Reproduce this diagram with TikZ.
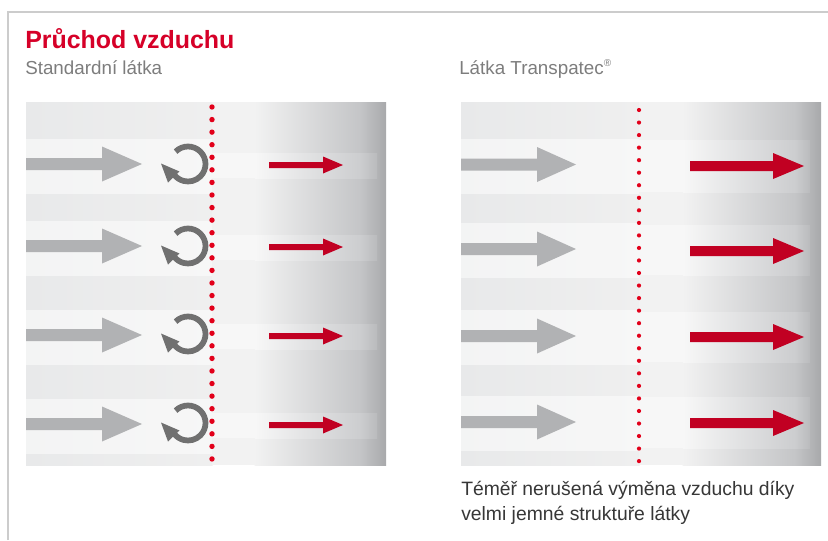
\documentclass[tikz,border=0pt]{standalone}
\usepackage{fontspec}
\setmainfont{Liberation Sans}
\definecolor{framec}{RGB}{204,204,204}
\definecolor{titlered}{RGB}{214,0,40}
\definecolor{subgray}{RGB}{125,125,125}
\definecolor{bodygray}{RGB}{55,55,55}
\definecolor{arrowgray}{RGB}{177,178,180}
\definecolor{arrowred}{RGB}{193,0,34}
\definecolor{dotred}{RGB}{226,0,26}
\definecolor{circg}{RGB}{112,112,112}
\definecolor{bgA}{RGB}{232,233,234}
\definecolor{bgB}{RGB}{239,239,239}
\definecolor{bgR0}{RGB}{242,242,242}
\definecolor{bgR1}{RGB}{196,197,199}
\definecolor{bgR2}{RGB}{168,169,171}
\definecolor{bdL0}{RGB}{247,247,247}
\definecolor{bdL1}{RGB}{204,205,207}
\definecolor{bdL2}{RGB}{186,187,189}
\newcommand{\blkarrow}[7]{%
  \fill[#7] (#1,#4-#5) -- (#2,#4-#5) -- (#2,#4-#6) -- (#3,#4) -- (#2,#4+#6) -- (#2,#4+#5) -- (#1,#4+#5) -- cycle;}
\newcommand{\circarrow}[2]{%
  \draw[circg, line width=4.3pt] (#1,#2) ++(-135:17.5) arc[start angle=-135, end angle=142, radius=17.5];
  \fill[circg] (#1-20,#2+18.5) -- (#1-27,#2-0.5) -- (#1-8.5,#2+7.5) -- cycle;}
% band on the right (shaded) part: x-dots, x-flat-end, x-mid, x-end, y-top, y-bottom
\newcommand{\rband}[6]{%
  \fill[bdL0] (#1,#5) rectangle (#2+0.5,#6);
  \shade[left color=bdL0, right color=bdL1] (#2,#5) rectangle (#3+0.5,#6);
  \shade[left color=bdL1, right color=bdL2] (#3,#5) rectangle (#4,#6);}
\tikzset{
  subtxt/.style={anchor=base west, inner sep=0pt, text=subgray, font=\fontsize{14.1pt}{16pt}\selectfont},
  bodytxt/.style={anchor=base west, inner sep=0pt, text=bodygray, font=\fontsize{14.5pt}{17pt}\selectfont},
  lightband/.style={fill=white, opacity=0.5}
}
\begin{document}
\begin{tikzpicture}[x=0.75pt,y=-0.75pt]
\useasboundingbox (0,0) rectangle (828,540);
\fill[white] (0,0) rectangle (828,540);
% frame
\draw[framec, line width=1.1pt] (8,540) -- (8,12) -- (828,12);

% titles
\node[anchor=base west, inner sep=0pt, text=titlered, font=\bfseries\fontsize{18.7pt}{20pt}\selectfont] (title) at (25,48.5) {Průchod vzduchu};
\node[subtxt] (sub1) at (25,74) {Standardní látka};
\node[subtxt] (sub2) at (459,74) {Látka Transpatec\raisebox{5.5pt}{\fontsize{7.5pt}{7.5pt}\selectfont ®}};

% ---------- left panel ----------
\shade[left color=bgA, right color=bgB] (26,102) rectangle (212.5,465);
\fill[bgR0] (212,102) rectangle (255,465);
\shade[left color=bgR0, right color=bgR1] (254.5,102) rectangle (360.5,465);
\shade[left color=bgR1, right color=bgR2] (360,102) rectangle (386,465);
\foreach \a/\b in {139/194,221/276,310/365,399/454}
  {\fill[lightband] (26,\a) rectangle (212,\b);}
\foreach \a/\b in {153/178,235/260,324/349,413/438}
  {\rband{212}{255}{360}{377}{\a}{\b}}
\foreach \y in {164,246,335,424}
  {\blkarrow{26}{102}{142}{\y}{6}{17.5}{arrowgray}}
\foreach \y in {165,247,336,425}
  {\blkarrow{269}{323}{343}{\y}{3}{8.5}{arrowred}}
\foreach \y in {164,246,334,423}
  {\circarrow{188}{\y}}
\foreach \i in {0,...,28}
  {\fill[dotred] (212,107+\i*12.57) circle[radius=2.7];}

% ---------- right panel ----------
\shade[left color=bgA, right color=bgB] (461,102) rectangle (639.5,465);
\fill[bgR0] (639,102) rectangle (683,465);
\shade[left color=bgR0, right color=bgR1] (682.5,102) rectangle (795.5,465);
\shade[left color=bgR1, right color=bgR2] (795,102) rectangle (821,465);
\foreach \a/\b in {139/194,223/278,310/365,396/451}
  {\fill[lightband] (461,\a) rectangle (639,\b);}
\foreach \a/\b in {140/192,225/275,312/362,397/448}
  {\rband{639}{683}{795}{810}{\a}{\b}}
\foreach \y in {164.5,249,336,422}
  {\blkarrow{461}{537}{576}{\y}{6}{17.5}{arrowgray}}
\foreach \y in {166,251,337,423}
  {\blkarrow{690}{773}{804}{\y}{5}{13}{arrowred}}
\foreach \i in {0,...,28}
  {\fill[dotred] (639,110+\i*12.54) circle[radius=2.1];}

% caption
\node[bodytxt] (cap1) at (461,495) {Téměř nerušená výměna vzduchu díky};
\node[bodytxt] (cap2) at (461,520) {velmi jemné struktuře látky};
\end{tikzpicture}
\end{document}
